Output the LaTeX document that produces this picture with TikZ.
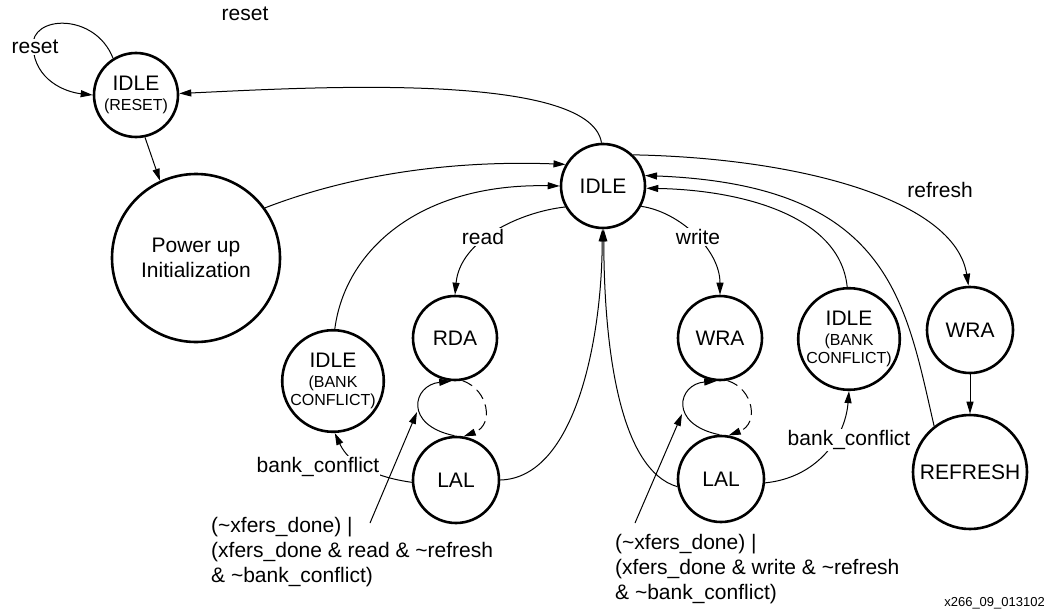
\documentclass[tikz,border=0pt]{standalone}
\usepackage{fontspec}
\setmainfont{Liberation Sans}
\usetikzlibrary{arrows.meta}
\newcommand\stsub{\fontsize{16}{18}\selectfont}
\begin{document}
\begin{tikzpicture}[x=1pt,y=-1pt,
  state/.style={circle,draw,line width=2.6pt,inner sep=0pt,align=center,
    font=\fontsize{21}{20}\selectfont},
  edge/.style={line width=1pt,-{Triangle[length=12pt,width=7pt]}},
  lbl/.style={font=\fontsize{21}{25}\selectfont,inner sep=1pt},
  cut/.style={lbl,fill=white},
  dashloop/.style={edge,dash pattern=on 11pt off 6pt},
]
\useasboundingbox (0,0) rectangle (1044,610);

% states
\node[state,minimum size=84pt]  (ir)   at (136,95)  {IDLE\\{\stsub(RESET)}};
\node[state,minimum size=168pt] (pu)   at (196,258) {Power up\\[5pt]Initialization};
\node[state,minimum size=84pt]  (idle) at (603,186) {IDLE};
\node[state,minimum size=84pt]  (rda)  at (455,338) {RDA};
\node[state,minimum size=86pt]  (lal1) at (456,480) {LAL};
\node[state,minimum size=96pt]  (ibl)  at (333,381) {IDLE\\{\stsub(BANK}\\[-2pt]{\stsub CONFLICT)}};
\node[state,minimum size=84pt]  (wra)  at (720,338) {WRA};
\node[state,minimum size=86pt]  (lal2) at (721,479) {LAL};
\node[state,minimum size=96pt]  (ibr)  at (849,339) {IDLE\\{\stsub(BANK}\\[-2pt]{\stsub CONFLICT)}};
\node[state,minimum size=86pt]  (wra2) at (970,330) {WRA};
\node[state,minimum size=114pt] (rf)   at (970,472) {REFRESH};

% reset handling
\draw[edge] (ir.122) .. controls (95,12) and (30,15) .. (33,47)
                     .. controls (35,80) and (65,92) .. (ir.180);
\draw[edge] (ir.-78) -- (pu.115);
\draw[edge] (pu.36) .. controls (350,175) and (450,160) .. (idle.150);
\draw[edge] (idle.92) .. controls (590,70) and (300,88) .. (ir.2);

% read branch
\draw[edge] (ibl.88) .. controls (345,250) and (420,183) .. (idle.180);
\draw[edge] (idle.209) .. controls (520,212) and (460,240) .. (rda.90);
\draw[edge] (lal1.0) .. controls (575,478) and (602,340) .. (idle.-91);
\draw[edge] (lal1.183) .. controls (360,475) and (345,455) .. (ibl.-88);
\draw[edge] (lal1.92) .. controls (403,425) and (413,385) .. (rda.-95);
\draw[dashloop] (rda.-80) .. controls (489,390) and (494,425) .. (lal1.80);

% write branch
\draw[edge] (idle.-28) .. controls (680,212) and (720,250) .. (wra.90);
\draw[edge] (lal2.190) .. controls (620,470) and (604,350) .. (idle.-89);
\draw[edge] (lal2.-5) .. controls (815,478) and (845,440) .. (ibr.-90);
\draw[edge] (lal2.92) .. controls (668,424) and (678,384) .. (wra.-95);
\draw[dashloop] (wra.-80) .. controls (754,389) and (759,424) .. (lal2.80);
\draw[edge] (ibr.92) .. controls (840,215) and (740,190) .. (idle.-3);

% refresh branch
\draw[edge] (idle.46) .. controls (800,158) and (955,200) .. (wra2.92);
\draw[edge] (wra2.-90) -- (rf.90);
\draw[edge] (rf.128) .. controls (905,300) and (890,185) .. (idle.14);

% burst conditions
\coordinate (c1s) at (370,523);
\coordinate (c1e) at (417,412);
\coordinate (c2s) at (635,523);
\coordinate (c2e) at (682,414);
\draw[edge] (c1s) -- (c1e);
\draw[edge] (c2s) -- (c2e);

% labels
\node[cut] (lreset) at (35,47) {reset};
\node[lbl] (lreset2) at (245,14) {reset};
\node[lbl] (lrefresh) at (940,190) {refresh};
\node[cut] (lread) at (483,237) {read};
\node[cut] (lwrite) at (698,237) {write};
\node[cut] (lbc1) at (318,467) {bank\_conflict};
\node[cut] (lbc2) at (849,440) {bank\_conflict};
\node[lbl,inner sep=0pt,anchor=north west,align=left] (cond1) at (211,517)
  {(\textasciitilde xfers\_done) |\\(xfers\_done \& read \& \textasciitilde refresh\\\& \textasciitilde bank\_conflict)};
\node[lbl,inner sep=0pt,anchor=north west,align=left] (cond2) at (615,534)
  {(\textasciitilde xfers\_done) |\\(xfers\_done \& write \& \textasciitilde refresh\\\& \textasciitilde bank\_conflict)};
\node[font=\fontsize{13}{15}\selectfont,inner sep=0pt,anchor=east] (fig) at (1045,603) {x266\_09\_013102};
\end{tikzpicture}
\end{document}
